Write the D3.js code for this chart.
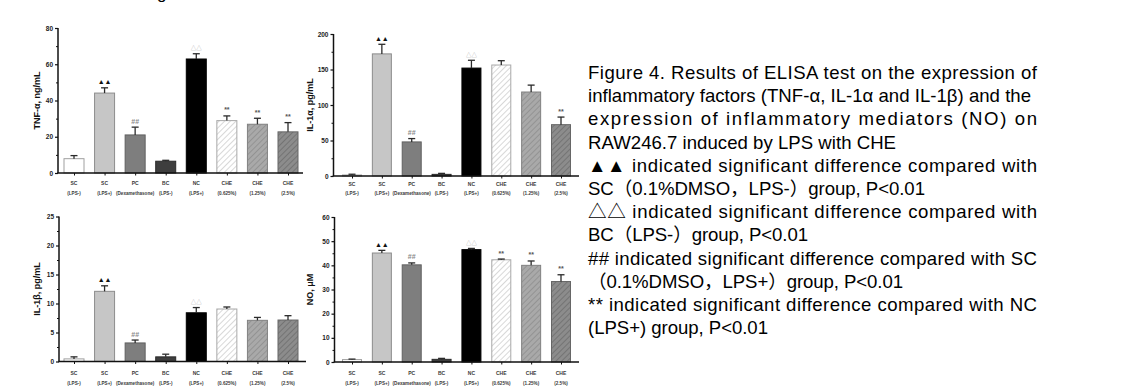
<!DOCTYPE html>
<html>
<head>
<meta charset="utf-8">
<script src="https://cdn.jsdelivr.net/npm/d3@7"></script>
<style>
  html, body { margin: 0; padding: 0; background: #fff; }
  svg { display: block; }
</style>
</head>
<body>
<script>
// ---------------- data ----------------
const groups = ["SC", "SC", "PC", "BC", "NC", "CHE", "CHE", "CHE"];
const groupSub = ["(LPS-)", "(LPS+)", "(Dexamethasone)", "(LPS-)", "(LPS+)", "(0.625%)", "(1.25%)", "(2.5%)"];

const tnfMean = [7.9, 44.1, 21.0, 6.5, 62.9, 28.9, 26.9, 22.7];
const tnfErr  = [1.7, 2.9, 4.3, 0.5, 2.9, 2.6, 3.3, 5.1];
const tnfMarks = ["", "▲▲", "##", "", "△△", "**", "**", "**"];
const tnfTicks = [0, 20, 40, 60, 80];

const il1aMean = [1.4, 172.0, 48.0, 2.3, 152.0, 156.3, 118.3, 72.3];
const il1aErr  = [1.1, 13.5, 4.7, 1.4, 11.0, 6.1, 9.7, 10.7];
const il1aMarks = ["", "▲▲", "##", "", "△△", "", "", "**"];
const il1aTicks = [0, 50, 100, 150, 200];

const il1bMean = [0.45, 12.1, 3.2, 0.8, 8.4, 9.05, 7.1, 7.15];
const il1bErr  = [0.35, 0.95, 0.5, 0.46, 0.9, 0.35, 0.5, 0.75];
const il1bMarks = ["", "▲▲", "##", "", "△△", "", "", ""];
const il1bTicks = [0, 5, 10, 15, 20, 25];

const noMean = [1.0, 45.1, 40.2, 1.1, 46.5, 42.3, 40.0, 33.3];
const noErr  = [0.2, 1.1, 0.8, 0.4, 0.5, 0.3, 1.8, 2.8];
const noMarks = ["", "▲▲", "##", "", "△△", "**", "**", "**"];
const noTicks = [0, 10, 20, 30, 40, 50, 60];

const captionLines = [
  "Figure 4. Results of ELISA test on the expression of",
  "inflammatory factors (TNF-α, IL-1α and IL-1β) and the",
  "expression of inflammatory mediators (NO) on",
  "RAW246.7 induced by LPS with CHE",
  "▲▲ indicated significant difference compared with",
  "SC（0.1%DMSO，LPS-）group, P<0.01",
  "△△ indicated significant difference compared with",
  "BC（LPS-）group, P<0.01",
  "## indicated significant difference compared with SC",
  "（0.1%DMSO，LPS+）group, P<0.01",
  "** indicated significant difference compared with NC",
  "(LPS+) group, P<0.01"
];

// ---------------- drawing ----------------
const W = 1125, H = 391;
const svg = d3.select("body").append("svg").attr("width", W).attr("height", H)
  .style("font-family", "'Liberation Sans', Arial, 'Noto Sans CJK SC', sans-serif");

// patterns
const defs = svg.append("defs");
function hatch(id, bg, line, lw) {
  const p = defs.append("pattern").attr("id", id).attr("patternUnits", "userSpaceOnUse")
    .attr("width", 4).attr("height", 4).attr("patternTransform", "rotate(45)");
  p.append("rect").attr("width", 4).attr("height", 4).attr("fill", bg);
  p.append("line").attr("x1", 0).attr("y1", 0).attr("x2", 0).attr("y2", 4)
    .attr("stroke", line).attr("stroke-width", lw);
}
hatch("h1", "#ffffff", "#c4c4c4", 1.3);
hatch("h2", "#a9a9a9", "#8a8a8a", 1.4);
hatch("h3", "#8c8c8c", "#6a6a6a", 1.4);

const fills = ["#ffffff", "#c6c6c6", "#7e7e7e", "#3e3e3e", "#000000", "url(#h1)", "url(#h2)", "url(#h3)"];
const strokes = ["#a0a0a0", "#8c8c8c", "#606060", "#2a2a2a", "#000000", "#a8a8a8", "#808080", "#666666"];
const markColors = ["#333", "#111", "#8a8a8a", "#333", "#b0b0b0", "#555", "#555", "#555"];

function panel(cfg) {
  const { x0, x1, yZero, yTop, max, ticks, minorStep, c0, c1, bw, mean, err, marks, label, labelX, xl1, xl2 } = cfg;
  const g = svg.append("g");
  const y = d3.scaleLinear().domain([0, max]).range([yZero, yTop]);
  const x = d3.scalePoint().domain(d3.range(groups.length)).range([c0, c1]);

  // bars
  g.selectAll("rect.bar").data(mean).join("rect").attr("class", "bar")
    .attr("x", (d, i) => x(i) - bw / 2).attr("width", bw)
    .attr("y", d => y(d)).attr("height", d => yZero - y(d))
    .attr("fill", (d, i) => fills[i]).attr("stroke", (d, i) => strokes[i]).attr("stroke-width", 1);

  // error bars (upper only)
  const eb = g.selectAll("g.eb").data(mean).join("g").attr("class", "eb");
  eb.append("line").attr("x1", (d, i) => x(i)).attr("x2", (d, i) => x(i))
    .attr("y1", d => y(d)).attr("y2", (d, i) => y(d + err[i]))
    .attr("stroke", "#2b2b2b").attr("stroke-width", 1.3);
  eb.append("line").attr("x1", (d, i) => x(i) - 3.5).attr("x2", (d, i) => x(i) + 3.5)
    .attr("y1", (d, i) => y(d + err[i])).attr("y2", (d, i) => y(d + err[i]))
    .attr("stroke", "#2b2b2b").attr("stroke-width", 1.3);

  // significance marks
  g.selectAll("text.mk").data(mean).join("text").attr("class", "mk")
    .attr("x", (d, i) => x(i)).attr("y", (d, i) => y(d + err[i]) - 3.5)
    .attr("text-anchor", "middle")
    .attr("font-size", (d, i) => marks[i].startsWith("△") ? 5.5 : 7)
    .attr("font-weight", "bold")
    .attr("fill", (d, i) => markColors[i])
    .text((d, i) => marks[i]);

  // y axis
  const yAxis = d3.axisLeft(y).tickValues(ticks).tickSize(3).tickPadding(2).tickFormat(d3.format("d"));
  const ya = g.append("g").attr("transform", `translate(${x0},0)`).call(yAxis);
  ya.select(".domain").attr("stroke", "#111").attr("stroke-width", 1.5).attr("d", `M-0,${yZero}V${yTop}`);
  ya.selectAll(".tick line").attr("stroke", "#111").attr("stroke-width", 1.2);
  ya.selectAll(".tick text").attr("font-size", 6.5).attr("font-weight", "bold").attr("fill", "#222")
    .attr("font-family", "'Liberation Sans Narrow', 'Liberation Sans', Arial, sans-serif");
  const minor = d3.range(minorStep, max, minorStep).filter(v => !ticks.includes(v));
  const ym = d3.axisLeft(y).tickValues(minor).tickSize(2).tickFormat("");
  const ymg = g.append("g").attr("transform", `translate(${x0},0)`).call(ym);
  ymg.select(".domain").remove();
  ymg.selectAll(".tick line").attr("stroke", "#111").attr("stroke-width", 1);

  // x axis
  const xAxis = d3.axisBottom(x).tickSize(2.5).tickFormat("");
  const xa = g.append("g").attr("transform", `translate(0,${yZero})`).call(xAxis);
  xa.select(".domain").attr("stroke", "#111").attr("stroke-width", 1.5).attr("d", `M${x0 - 0.75},0H${x1}`);
  xa.selectAll(".tick line").attr("stroke", "#111").attr("stroke-width", 1);

  // x labels (two lines)
  g.selectAll("text.xl1").data(groups).join("text").attr("class", "xl1")
    .attr("x", (d, i) => x(i)).attr("y", xl1).attr("text-anchor", "middle")
    .attr("font-size", 5).attr("font-weight", "bold").attr("fill", "#3a3a3a")
    .text(d => d);
  g.selectAll("text.xl2").data(groupSub).join("text").attr("class", "xl2")
    .attr("x", (d, i) => x(i)).attr("y", xl2).attr("text-anchor", "middle")
    .attr("font-size", 4.6).attr("font-weight", "bold").attr("fill", "#3a3a3a")
    .text(d => d);

  // y label
  g.append("text").attr("transform", `translate(${labelX},${(yZero + yTop) / 2}) rotate(-90)`)
    .attr("text-anchor", "middle").attr("font-size", 9).attr("font-weight", "bold").attr("fill", "#111")
    .text(label);
}

panel({ x0: 58, x1: 303, yZero: 173, yTop: 28, max: 80, ticks: tnfTicks, minorStep: 10,
  c0: 74, c1: 288, bw: 20, mean: tnfMean, err: tnfErr, marks: tnfMarks,
  label: "TNF-α, ng/mL", labelX: 40, xl1: 185, xl2: 195 });

panel({ x0: 333.5, x1: 579, yZero: 176, yTop: 34, max: 200, ticks: il1aTicks, minorStep: 25,
  c0: 352, c1: 561, bw: 19, mean: il1aMean, err: il1aErr, marks: il1aMarks,
  label: "IL-1α, pg/mL", labelX: 312.5, xl1: 186, xl2: 195 });

panel({ x0: 59, x1: 306, yZero: 361.5, yTop: 216.5, max: 25, ticks: il1bTicks, minorStep: 2.5,
  c0: 74, c1: 288, bw: 20, mean: il1bMean, err: il1bErr, marks: il1bMarks,
  label: "IL-1β, pg/mL", labelX: 40, xl1: 374.5, xl2: 384.5 });

panel({ x0: 334.5, x1: 579, yZero: 362, yTop: 217, max: 60, ticks: noTicks, minorStep: 5,
  c0: 352, c1: 561, bw: 19, mean: noMean, err: noErr, marks: noMarks,
  label: "NO, μM", labelX: 312.5, xl1: 374.5, xl2: 384.5 });

// clipped glyph from the line above the figure
svg.append("text").attr("x", 157).attr("y", -1).attr("font-size", 17).attr("fill", "#000").text("g");

// caption: each line fitted to the right edge measured in the reference
const capLeft = 588;
const capRightEdges = [1037, 1031, 1037, 896, 1037, 925, 1037, 808, 1037, 903, 1037, 768];
const cap = svg.append("g").attr("fill", "#000").attr("font-size", 18.6);
captionLines.forEach((t, i) => {
  const tx = cap.append("text").attr("x", capLeft).attr("y", 79 + i * 23.2).text(t);
  tx.attr("textLength", capRightEdges[i] - capLeft).attr("lengthAdjust", "spacing");
});
</script>
</body>
</html>
